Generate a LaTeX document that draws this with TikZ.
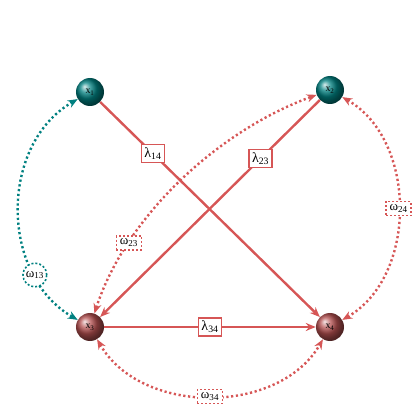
\documentclass[tikz,border=0pt]{standalone}
\usepackage{fontspec}
\setmainfont{Liberation Serif}
\usetikzlibrary{arrows.meta,shapes.geometric}
\definecolor{lred}{RGB}{214,86,86}
\definecolor{lteal}{RGB}{0,128,128}
\definecolor{bred}{RGB}{180,80,80}
\definecolor{bteal}{RGB}{0,128,128}
\tikzset{
  ballbase/.style={circle,minimum size=28bp,inner sep=0pt,shading=ball,font=\fontsize{10}{12}\selectfont},
  tealball/.style={ballbase,ball color=bteal},
  redball/.style={ballbase,ball color=bred},
  solidedge/.style={draw=lred,line width=2.4bp,-{Stealth[length=10bp,width=8bp]}},
  dotedge/.style={line width=2.4bp,dash pattern=on 2.2bp off 2.6bp,{Stealth[length=10bp,width=8bp]}-{Stealth[length=10bp,width=8bp]}},
  lamlab/.style={draw=lred,fill=white,line width=1.6bp,rectangle,inner xsep=3bp,inner ysep=3bp,font=\fontsize{14}{16}\selectfont,text=black},
  omlab/.style={draw=lred,fill=white,line width=1.6bp,dash pattern=on 2bp off 2bp,rectangle,inner xsep=3.5bp,inner ysep=3bp,font=\fontsize{13}{15}\selectfont,text=black},
  omcirc/.style={draw=lteal,fill=white,line width=1.6bp,dash pattern=on 2bp off 2bp,circle,inner sep=1.5bp,font=\fontsize{13}{15}\selectfont,text=black},
}
\begin{document}
\begin{tikzpicture}[x=1bp,y=1bp]
\useasboundingbox (0,0) rectangle (420,420);
\node[tealball] (x1) at (90,328) {x\textsubscript{1}};
\node[tealball] (x2) at (330,330) {x\textsubscript{2}};
\node[redball] (x3) at (90,93) {x\textsubscript{3}};
\node[redball] (x4) at (330,93) {x\textsubscript{4}};
% solid
\draw[solidedge] (x1) -- node[lamlab,pos=0.24] {λ\textsubscript{14}} (x4);
\draw[solidedge] (x2) -- node[lamlab,pos=0.27] {λ\textsubscript{23}} (x3);
\draw[solidedge] (x3) -- node[lamlab,pos=0.5] {λ\textsubscript{34}} (x4);
% dotted
\draw[dotedge,color=lteal] (x1) to[out=210,in=150,looseness=1.05] node[omcirc,pos=0.76] {ω\textsubscript{13}} (x3);
\draw[dotedge,color=lred] (x3) to[out=72,in=200,looseness=0.85] node[omlab,pos=0.25] {ω\textsubscript{23}} (x2);
\draw[dotedge,color=lred] (x2) to[out=-30,in=30,looseness=1.0] node[omlab,pos=0.5] {ω\textsubscript{24}} (x4);
\draw[dotedge,color=lred] (x3) to[out=-60,in=-120,looseness=1.0] node[omlab,pos=0.5] {ω\textsubscript{34}} (x4);
\end{tikzpicture}
\end{document}
